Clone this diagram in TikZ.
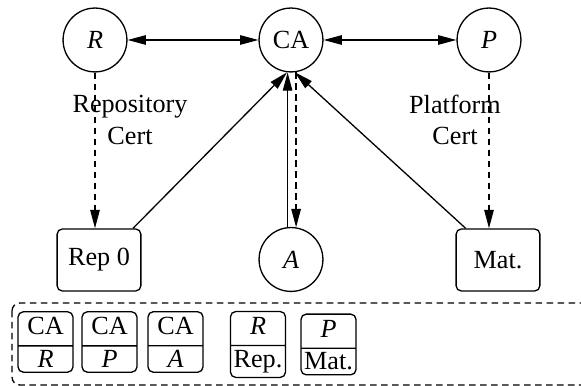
\documentclass[tikz,border=0pt]{standalone}
\usepackage{fontspec}
\setmainfont{Liberation Serif}
\usetikzlibrary{arrows.meta,shapes.multipart,calc}
\begin{document}
\begin{tikzpicture}[x=0.382pt,y=-0.382pt,
 every node/.style={font=\fontsize{10}{12}\selectfont},
 agent/.style={circle,draw,line width=0.5pt,minimum size=24.4pt,inner sep=0pt},
 host/.style={rectangle,draw,rounded corners=2pt,line width=0.5pt,minimum width=32pt,minimum height=23.7pt,inner sep=0pt},
 cert/.style={rectangle split,rectangle split parts=2,draw,rounded corners=2pt,line width=0.5pt,minimum width=21pt,inner xsep=0.5pt,inner ysep=1.5pt,text height=7pt,text depth=2.5pt},
 link/.style={line width=0.5pt,-{Triangle[length=7pt,width=3.6pt]}},
 biglink/.style={line width=0.5pt,{Triangle[length=7pt,width=3.6pt]}-{Triangle[length=7pt,width=3.6pt]}},
 certline/.style={dash pattern=on 2.5pt off 1.7pt},
 lbl/.style={align=center}]
\useasboundingbox (0,0) rectangle (581,386);
% top row
\node[agent] (R) at (95,40) {\itshape R};
\node[agent] (CA) at (291,40) {CA};
\node[agent] (P) at (489,40) {\itshape P};
% lower row
\node[host] (rep) at (99,260) {Rep 0};
\node[agent] (A) at (291,259.5) {\itshape A};
\node[host] (mat) at (498,260) {Mat.};
% labels
\node[lbl] (rcert) at (130,120) {Repository\\Cert};
\node[lbl] (pcert) at (455,120) {Platform\\Cert};
% connectors
\draw[biglink] (R) -- (CA);
\draw[biglink] (CA) -- (P);
\draw[link,certline] (R) -- (R |- rep.north);
\draw[link,certline] (P) -- (P |- mat.north);
\draw[link] ($(rep.north west)!0.9!(rep.north east)$) -- (CA.-97);
\draw[link] ($(mat.north west)!0.12!(mat.north east)$) -- (CA.-83);
\draw[link] (A.96) -- (CA.-96);
\draw[link,certline] (CA.-81) -- (A.81);
% legend
\draw[certline,line width=0.5pt,rounded corners=3pt] (12,303) rectangle (600,385);
\node[cert] (c1) at (45.5,342) {CA\nodepart{two}\itshape R};
\node[cert] (c2) at (109.5,342) {CA\nodepart{two}\itshape P};
\node[cert] (c3) at (175.5,342) {CA\nodepart{two}\itshape A};
\node[cert] (c4) at (258,344.5) {\itshape R\nodepart{two}Rep.};
\node[cert] (c5) at (328.5,344.5) {\itshape P\nodepart{two}Mat.};
\end{tikzpicture}
\end{document}
